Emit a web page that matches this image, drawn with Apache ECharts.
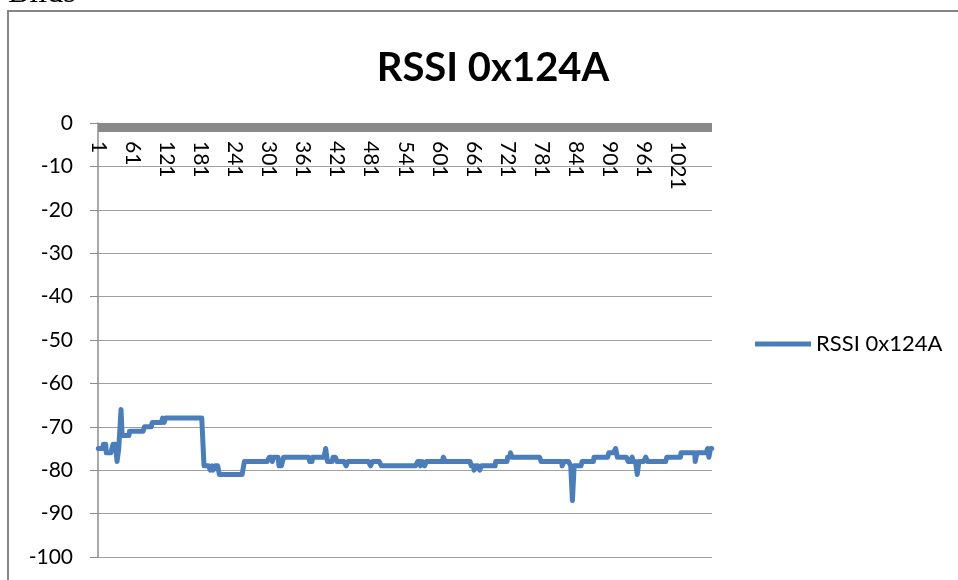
<!DOCTYPE html>
<html>
<head>
<meta charset="utf-8">
<script src="https://cdn.jsdelivr.net/npm/echarts@6/dist/echarts.min.js"></script>
<style>
  html, body { margin: 0; padding: 0; background: #fff; }
  #chart { width: 958px; height: 580px; }
</style>
</head>
<body>
<div id="chart"></div>
<script>
// RSSI readings: [value, number of samples]
const rssiRuns = [
  [-75, 9], [-74, 5], [-76, 12], [-74, 7], [-78, 3], [-75, 4], [-66, 2],
  [-72, 13], [-71, 26], [-70, 14], [-69, 18], [-68, 3], [-69, 2], [-68, 68],
  [-79, 11], [-80, 3], [-79, 2], [-80, 4], [-79, 7], [-81, 44],
  [-78, 44], [-77, 5], [-78, 2], [-77, 10], [-79, 8], [-77, 46], [-78, 5], [-77, 23],
  [-75, 3], [-78, 10], [-77, 7], [-78, 16], [-79, 3], [-78, 40], [-79, 3], [-78, 16],
  [-79, 64], [-78, 5], [-79, 3], [-78, 4], [-79, 3], [-78, 30], [-77, 3], [-78, 46],
  [-79, 5], [-80, 3], [-79, 7], [-80, 3], [-79, 25], [-78, 21], [-77, 5], [-76, 3], [-77, 51],
  [-78, 37], [-79, 3], [-78, 12], [-79, 3], [-87, 3], [-79, 14], [-78, 21], [-77, 26], [-76, 12], [-75, 3],
  [-77, 19], [-78, 7], [-77, 2], [-78, 7], [-81, 3], [-78, 12], [-77, 3], [-78, 34],
  [-77, 25], [-76, 25], [-78, 3], [-76, 19], [-75, 2], [-77, 3], [-75, 3]
];
const seriesName = 'RSSI 0x124A';
const yTicks = [0, -10, -20, -30, -40, -50, -60, -70, -80, -90, -100];

const values = [];
rssiRuns.forEach(([v, n]) => { for (let k = 0; k < n; k++) values.push(v); });
const categories = values.map((_, i) => String(i + 1));

const chart = echarts.init(document.getElementById('chart'));
const font = 'Lato, "Open Sans", sans-serif';

chart.setOption({
  animation: false,
  backgroundColor: '#fff',
  title: {
    text: seriesName,
    left: 488,
    textAlign: 'center',
    top: 43,
    textStyle: { fontFamily: font, fontWeight: 'bold', fontSize: 40, color: '#000' }
  },
  legend: {
    left: 750,
    top: 328,
    icon: 'rect',
    itemWidth: 56,
    itemHeight: 5,
    itemGap: 5,
    textStyle: { fontFamily: font, fontSize: 22, color: '#000' }
  },
  grid: { left: 98, right: 246, top: 123, bottom: 23 },
  xAxis: {
    type: 'category',
    data: categories,
    position: 'top',
    offset: -4,
    axisLine: { onZero: false, lineStyle: { color: '#898989', width: 9, cap: 'butt' } },
    axisTick: { show: false },
    axisLabel: {
      inside: true,
      rotate: 90,
      interval: 59,
      margin: 14,
      fontFamily: font,
      fontSize: 21,
      color: '#000'
    },
    splitLine: { show: false }
  },
  yAxis: {
    type: 'value',
    min: yTicks[yTicks.length - 1],
    max: yTicks[0],
    interval: 10,
    axisLine: { show: true, lineStyle: { color: '#8c8c8c', width: 1.5 } },
    axisTick: { show: true, length: 8, lineStyle: { color: '#8c8c8c' } },
    axisLabel: { margin: 25, fontFamily: font, fontSize: 21, color: '#000' },
    splitLine: { lineStyle: { color: '#a0a0a0', width: 1 } }
  },
  series: [
    {
      name: seriesName,
      type: 'line',
      data: values,
      symbol: 'none',
      lineStyle: { width: 5, color: '#4a7ebb', cap: 'round', join: 'round' },
      itemStyle: { color: '#4a7ebb' }
    }
  ],
  graphic: [
    {
      type: 'rect',
      shape: { x: 8, y: 11, width: 1200, height: 1000 },
      style: { fill: 'none', stroke: '#868686', lineWidth: 2 },
      silent: true
    },
    {
      type: 'text',
      x: 8,
      y: 10,
      style: {
        text: 'Bilds',
        font: '32px "Liberation Serif", "DejaVu Serif", serif',
        fill: '#000',
        verticalAlign: 'bottom'
      }
    }
  ]
});
</script>
</body>
</html>
